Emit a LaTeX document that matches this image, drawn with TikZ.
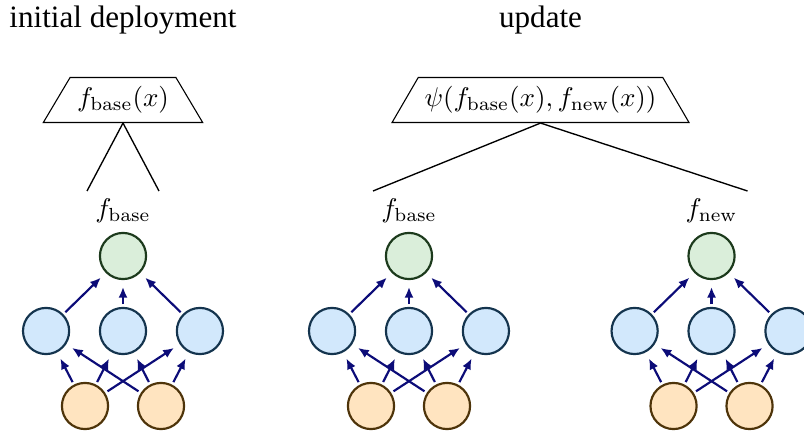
\documentclass[tikz,border=0pt]{standalone}
\usepackage[no-math]{fontspec}
\setmainfont{Liberation Serif}
\usetikzlibrary{shapes.geometric, arrows.meta, positioning}
\definecolor{outfill}{RGB}{218,238,218}
\definecolor{outdraw}{RGB}{28,58,28}
\definecolor{hidfill}{RGB}{210,232,252}
\definecolor{hiddraw}{RGB}{20,52,78}
\definecolor{infill}{RGB}{255,228,192}
\definecolor{indraw}{RGB}{78,52,10}
\definecolor{arrcol}{RGB}{12,12,120}
\tikzset{
  outnode/.style={circle, minimum size=0.6cm, inner sep=0pt,
    line width=0.8pt, draw=outdraw, fill=outfill},
  hidnode/.style={circle, minimum size=0.6cm, inner sep=0pt,
    line width=0.8pt, draw=hiddraw, fill=hidfill},
  innode/.style={circle, minimum size=0.6cm, inner sep=0pt,
    line width=0.8pt, draw=indraw, fill=infill},
  combiner/.style={trapezium, trapezium angle=60,
    trapezium stretches=true, draw=black,
    minimum height=0.572cm, inner xsep=2pt},
  heading/.style={font=\fontsize{11.5}{14}\selectfont},
  arr/.style={-{Latex[length=4pt, width=3.4pt]}, line width=0.8pt,
    draw=arrcol, shorten <=1pt, shorten >=2.5pt},
  link/.style={draw=black, line width=0.5pt},
}

\begin{document}
\begin{tikzpicture}
\useasboundingbox (0,0) rectangle (10.452,-5.629);

% Networks: output, hidden and input layers
\begin{scope}[on grid, node distance=0.975cm and 1cm]
\foreach \n/\x in {a/1.599, b/5.317, c/9.25} {
  \node (\n-out) [outnode] at (\x,-3.328) {};
  \node (\n-h2) [hidnode, below=of \n-out] {};
  \node (\n-h1) [hidnode, left=of \n-h2] {};
  \node (\n-h3) [hidnode, right=of \n-h2] {};
  \node (\n-i1) [innode, below left=0.975cm and 0.494cm of \n-h2] {};
  \node (\n-i2) [innode, below right=0.975cm and 0.494cm of \n-h2] {};
  \path (\n-out.center) ++(-0.468,0.845) coordinate (\n-tl);
  \path (\n-out.center) ++(0.468,0.845) coordinate (\n-tr);
  \foreach \h in {1,2,3} {
    \draw[arr] (\n-h\h) -- (\n-out);
    \draw[arr] (\n-i1) -- (\n-h\h);
    \draw[arr] (\n-i2) -- (\n-h\h);
  }
}
\end{scope}

% Model labels
\node (lbl-a) [above=0pt of a-out] {$f_{\mathrm{base}}$};
\node (lbl-b) [above=0pt of b-out] {$f_{\mathrm{base}}$};
\node (lbl-c) [above=0pt of c-out] {$f_{\mathrm{new}}$};

% Combiners
\node (comb-init) [combiner, minimum width=2.08cm] at (1.599,-1.3)
  {$f_{\mathrm{base}}(x)$};
\node (comb-upd) [combiner, minimum width=3.861cm] at (7.027,-1.3)
  {$\psi(f_{\mathrm{base}}(x), f_{\mathrm{new}}(x))$};

% Titles
\node (ttl-init) [heading, above=0.43cm of comb-init] {initial deployment};
\node (ttl-upd)  [heading, above=0.43cm of comb-upd] {update};

% Links from combiners to models
\draw[link] (comb-init.south) -- (a-tl);
\draw[link] (comb-init.south) -- (a-tr);
\draw[link] (comb-upd.south) -- (b-tl);
\draw[link] (comb-upd.south) -- (c-tr);

\end{tikzpicture}
\end{document}
